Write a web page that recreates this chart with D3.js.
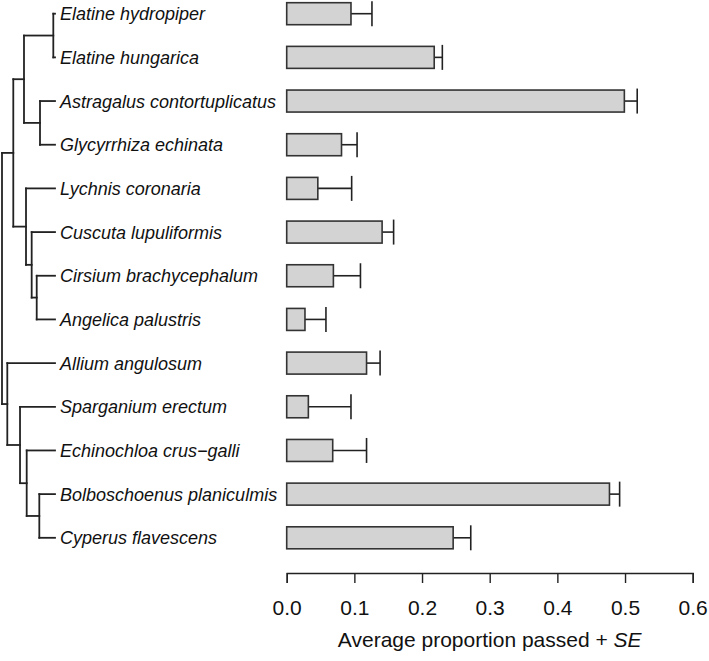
<!DOCTYPE html>
<html><head><meta charset="utf-8">
<script src="https://cdn.jsdelivr.net/npm/d3@7"></script>
<style>body{margin:0;background:#fff}</style>
</head><body>
<svg id="chart" width="709" height="661"></svg>
<script>
// ---- data ----
const species = [
  "Elatine hydropiper", "Elatine hungarica", "Astragalus contortuplicatus",
  "Glycyrrhiza echinata", "Lychnis coronaria", "Cuscuta lupuliformis",
  "Cirsium brachycephalum", "Angelica palustris", "Allium angulosum",
  "Sparganium erectum", "Echinochloa crus\u2212galli", "Bolboschoenus planiculmis",
  "Cyperus flavescens"
];
const proportion = [0.095, 0.218, 0.499, 0.081, 0.046, 0.141, 0.069, 0.027, 0.118, 0.032, 0.068, 0.477, 0.246];
const se = [0.031, 0.012, 0.019, 0.023, 0.050, 0.017, 0.040, 0.031, 0.020, 0.063, 0.050, 0.015, 0.026];
const tickValues = [0, 0.1, 0.2, 0.3, 0.4, 0.5, 0.6];
const axisTitle = "Average proportion passed + ";
const axisTitleItalic = "SE";
// phylogeny: internal nodes with relative depth (0 = root, 1 = tips)
const treeNodes = [
  {id: "root", parent: null, depth: 0},
  {id: "A", parent: "root", depth: 0.213},
  {id: "A1", parent: "A", depth: 0.415},
  {id: "Elat", parent: "A1", depth: 0.968},
  {id: "Fab", parent: "A1", depth: 0.717},
  {id: "A2", parent: "A", depth: 0.453},
  {id: "A2b", parent: "A2", depth: 0.56},
  {id: "A2c", parent: "A2b", depth: 0.655},
  {id: "B", parent: "root", depth: 0.1},
  {id: "B1", parent: "B", depth: 0.34},
  {id: "B2", parent: "B1", depth: 0.466},
  {id: "B3", parent: "B2", depth: 0.704}
];
const tipParents = ["Elat", "Elat", "Fab", "Fab", "A2", "A2b", "A2c", "A2c", "B", "B1", "B2", "B3", "B3"];

// ---- layout ----
const svg = d3.select("#chart");
const font = "'Liberation Sans', Arial, Helvetica, sans-serif";
const ink = "#222";

const y = d3.scalePoint().domain(species).range([13.7, 537.8]);
const x = d3.scaleLinear().domain([0, 0.6]).range([286.7, 692.7]);
const tx = d3.scaleLinear().domain([0, 1]).range([2, 55]);
const barH = 22, capH = 25;

// ---- tree ----
const all = treeNodes.map(d => ({...d}))
  .concat(species.map((s, i) => ({id: "tip:" + s, parent: tipParents[i], depth: 1, name: s})));
const root = d3.stratify().id(d => d.id).parentId(d => d.parent)(all);
root.eachAfter(n => {
  if (!n.children) n.yy = y(n.data.name);
  else {
    const ys = n.children.map(c => c.yy);
    n.yy = (d3.min(ys) + d3.max(ys)) / 2;
  }
  n.xx = tx(n.data.depth);
});
const gTree = svg.append("g").attr("fill", "none").attr("stroke", ink).attr("stroke-width", 1.8).attr("stroke-linecap", "square");
root.descendants().forEach(n => {
  if (n.children) {
    const ys = n.children.map(c => c.yy);
    gTree.append("line").attr("x1", n.xx).attr("x2", n.xx).attr("y1", d3.min(ys)).attr("y2", d3.max(ys));
    n.children.forEach(c => {
      gTree.append("line").attr("x1", n.xx).attr("x2", c.xx).attr("y1", c.yy).attr("y2", c.yy);
    });
  }
});

// ---- labels ----
svg.append("g").selectAll("text").data(species).join("text")
  .attr("x", 60).attr("y", d => y(d)).attr("dy", "0.36em")
  .attr("font-family", font).attr("font-size", 18).attr("font-style", "italic").attr("fill", "#111")
  .text(d => d);

// ---- bars ----
const data = species.map((s, i) => ({s, v: proportion[i], e: se[i]}));
const gBars = svg.append("g");
gBars.selectAll("line.err").data(data).join("line").attr("class", "err")
  .attr("x1", d => x(d.v)).attr("x2", d => x(d.v + d.e))
  .attr("y1", d => y(d.s)).attr("y2", d => y(d.s))
  .attr("stroke", ink).attr("stroke-width", 1.6);
gBars.selectAll("line.cap").data(data).join("line").attr("class", "cap")
  .attr("x1", d => x(d.v + d.e)).attr("x2", d => x(d.v + d.e))
  .attr("y1", d => y(d.s) - capH / 2).attr("y2", d => y(d.s) + capH / 2)
  .attr("stroke", ink).attr("stroke-width", 1.6);
gBars.selectAll("rect").data(data).join("rect")
  .attr("x", x(0)).attr("width", d => x(d.v) - x(0))
  .attr("y", d => y(d.s) - barH / 2).attr("height", barH)
  .attr("fill", "#d3d3d3").attr("stroke", "#333").attr("stroke-width", 1.6);

// ---- axis ----
const axis = d3.axisBottom(x).tickValues(tickValues).tickFormat(d3.format(".1f"))
  .tickSize(10).tickSizeOuter(10).tickPadding(17);
const gAxis = svg.append("g").attr("transform", "translate(0,573)").call(axis);
gAxis.select(".domain").attr("stroke", ink).attr("stroke-width", 1.4);
gAxis.selectAll(".tick line").attr("stroke", ink).attr("stroke-width", 1.4);
gAxis.selectAll(".tick text").attr("font-family", font).attr("font-size", 21).attr("fill", "#111");

const title = svg.append("text").attr("x", (x(0) + x(0.6)) / 2).attr("y", 647)
  .attr("text-anchor", "middle").attr("font-family", font).attr("font-size", 21).attr("fill", "#111");
title.append("tspan").text(axisTitle);
title.append("tspan").attr("font-style", "italic").text(axisTitleItalic);
</script>
</body></html>
